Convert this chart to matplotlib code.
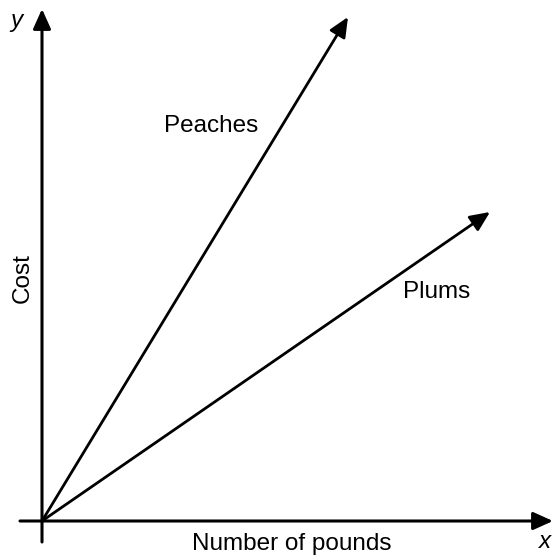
import matplotlib
matplotlib.use("Agg")
import matplotlib.pyplot as plt

plt.rcParams["font.family"] = ["Liberation Sans", "DejaVu Sans"]

# Two proportional relationships: cost vs. number of pounds
fruits = ["Peaches", "Plums"]
end_x = [6.12, 8.96]
end_y = [10.08, 6.18]
label_x = [3.38, 7.90]
label_y = [7.90, 4.58]

fig = plt.figure(figsize=(5.53, 5.60), dpi=100)
ax = fig.add_axes([0, 0, 1, 1])
ax.set_xlim(-0.84, 10.22)
ax.set_ylim(-0.78, 10.42)
ax.axis("off")

head = "-|>,head_length=0.6,head_width=0.27"

# Axes with arrowheads
ax.annotate("", xy=(10.22, 0), xytext=(-0.44, 0),
            arrowprops=dict(arrowstyle=head, lw=2.2, color="black",
                            mutation_scale=20, shrinkA=0, shrinkB=0))
ax.annotate("", xy=(0, 10.24), xytext=(0, -0.42),
            arrowprops=dict(arrowstyle=head, lw=2.2, color="black",
                            mutation_scale=20, shrinkA=0, shrinkB=0))

# Rays from the origin
for name, x1, y1, lx, ly in zip(fruits, end_x, end_y, label_x, label_y):
    ax.annotate("", xy=(x1, y1), xytext=(0, 0),
                arrowprops=dict(arrowstyle=head, lw=2.0, color="black",
                                mutation_scale=20, shrinkA=0, shrinkB=0))
    ax.text(lx, ly, name, fontsize=17.5, ha="center", va="center")

# Axis titles and variable names
ax.text(5.0, -0.46, "Number of pounds", fontsize=17.5, ha="center", va="center")
ax.text(-0.38, 4.86, "Cost", fontsize=17.5, ha="center", va="center", rotation=90)
ax.text(-0.52, 10.0, "y", fontsize=17.5, style="italic", ha="center", va="center")
ax.text(10.07, -0.40, "x", fontsize=17.5, style="italic", ha="center", va="center")

fig.savefig("out.png", dpi=100)
